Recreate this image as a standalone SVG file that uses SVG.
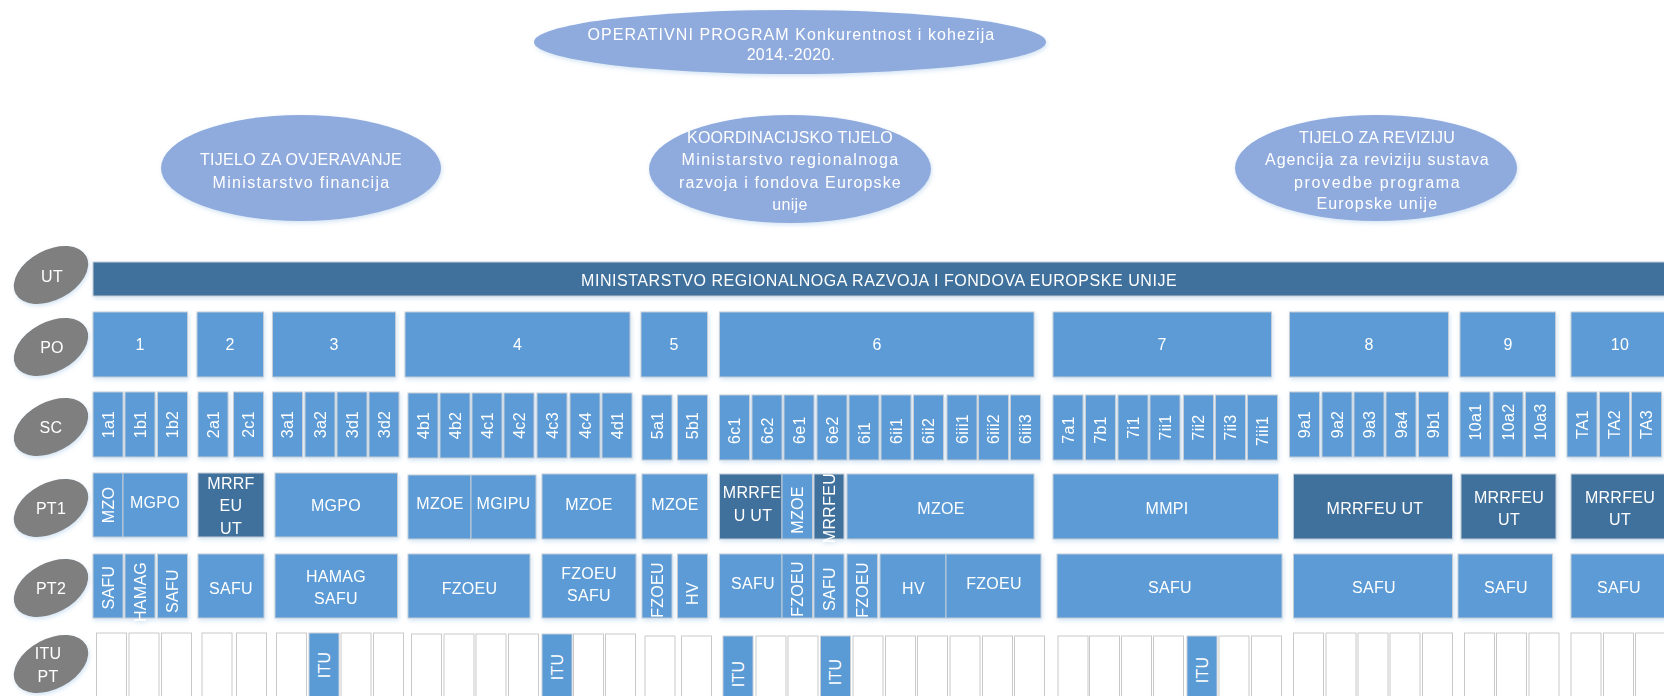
<svg xmlns="http://www.w3.org/2000/svg" width="1664" height="696" viewBox="0 0 1664 696">
<style>
.t{font-family:"Liberation Sans",Arial,sans-serif;font-size:16px;fill:#fff;text-anchor:middle;letter-spacing:0.3px}
.ts{font-family:"Liberation Sans",Arial,sans-serif;font-size:16px;fill:#fff;text-anchor:start;letter-spacing:0.3px}
.lb{fill:#5b9bd5;stroke:#c5cdd6;stroke-width:1}
.db{fill:#41719c;stroke:#c5cdd6;stroke-width:1}
.wb{fill:#fff;stroke:#c9c9c9;stroke-width:1}
.lab{fill:#7f7f7f}
.top{fill:#8faadc}
</style>
<defs>
<filter id="sh" x="-5%" y="-10%" width="115%" height="135%">
<feDropShadow dx="1" dy="2" stdDeviation="2" flood-color="#9dc3e6" flood-opacity="0.45"/>
</filter>
</defs>
<rect width="1664" height="696" fill="#fff"/>

<!-- top ellipses -->
<g id="op" filter="url(#sh)">
<ellipse class="top" cx="790" cy="42" rx="256" ry="32"/>
<text class="t" x="791" y="39.5" textLength="407" lengthAdjust="spacing">OPERATIVNI PROGRAM Konkurentnost i kohezija</text>
<text class="t" x="791" y="60">2014.-2020.</text>
</g>
<g id="tijelo-ovjeravanje" filter="url(#sh)">
<ellipse class="top" cx="301" cy="168" rx="140" ry="53"/>
<text class="t" x="301" y="165" textLength="202" lengthAdjust="spacing">TIJELO ZA OVJERAVANJE</text>
<text class="t" x="301" y="187.5" textLength="177" lengthAdjust="spacing">Ministarstvo financija</text>
</g>
<g id="koordinacijsko" filter="url(#sh)">
<ellipse class="top" cx="790" cy="169" rx="141" ry="54"/>
<text class="t" x="790" y="143" textLength="206" lengthAdjust="spacing">KOORDINACIJSKO TIJELO</text>
<text class="t" x="790" y="165" textLength="217" lengthAdjust="spacing">Ministarstvo regionalnoga</text>
<text class="t" x="790" y="188" textLength="222" lengthAdjust="spacing">razvoja i fondova Europske</text>
<text class="t" x="790" y="209.5">unije</text>
</g>
<g id="tijelo-revizija" filter="url(#sh)">
<ellipse class="top" cx="1376" cy="168" rx="141" ry="53"/>
<text class="t" x="1377" y="143" textLength="156" lengthAdjust="spacing">TIJELO ZA REVIZIJU</text>
<text class="t" x="1377" y="165" textLength="224" lengthAdjust="spacing">Agencija za reviziju sustava</text>
<text class="t" x="1377" y="187.5" textLength="166" lengthAdjust="spacing">provedbe programa</text>
<text class="t" x="1377" y="209" textLength="121" lengthAdjust="spacing">Europske unije</text>
</g>

<!-- row labels -->
<g id="lbl-ut" filter="url(#sh)"><ellipse class="lab" cx="51" cy="275" rx="40" ry="25" transform="rotate(-28 51 275)"/><text class="t" x="52" y="282">UT</text></g>
<g id="lbl-po" filter="url(#sh)"><ellipse class="lab" cx="51" cy="347" rx="40" ry="25" transform="rotate(-28 51 347)"/><text class="t" x="52" y="353">PO</text></g>
<g id="lbl-sc" filter="url(#sh)"><ellipse class="lab" cx="51" cy="427" rx="40" ry="25" transform="rotate(-28 51 427)"/><text class="t" x="51" y="433">SC</text></g>
<g id="lbl-pt1" filter="url(#sh)"><ellipse class="lab" cx="51" cy="508" rx="40" ry="25" transform="rotate(-28 51 508)"/><text class="t" x="51" y="514">PT1</text></g>
<g id="lbl-pt2" filter="url(#sh)"><ellipse class="lab" cx="51" cy="588" rx="40" ry="25" transform="rotate(-28 51 588)"/><text class="t" x="51" y="594">PT2</text></g>
<g id="lbl-itu" filter="url(#sh)"><ellipse class="lab" cx="51" cy="664" rx="40" ry="25" transform="rotate(-28 51 664)"/><text class="t" x="48" y="659">ITU</text><text class="t" x="48" y="682">PT</text></g>

<!-- UT -->
<g id="ut" filter="url(#sh)">
<rect class="db" x="93" y="262" width="1574" height="34"/>
<text class="t" x="879" y="285.5" textLength="596" lengthAdjust="spacing">MINISTARSTVO REGIONALNOGA RAZVOJA I FONDOVA EUROPSKE UNIJE</text>
</g>

<!-- PO -->
<g id="po" filter="url(#sh)">
<g id="po1"><rect class="lb" x="93" y="312" width="94.5" height="65"/><text class="t" x="140" y="350">1</text></g>
<g id="po2"><rect class="lb" x="197" y="312" width="66.5" height="65"/><text class="t" x="230" y="350">2</text></g>
<g id="po3"><rect class="lb" x="272.5" y="312" width="123" height="65"/><text class="t" x="334" y="350">3</text></g>
<g id="po4"><rect class="lb" x="405" y="312" width="225" height="65"/><text class="t" x="517.5" y="350">4</text></g>
<g id="po5"><rect class="lb" x="641" y="312" width="66.5" height="65"/><text class="t" x="674" y="350">5</text></g>
<g id="po6"><rect class="lb" x="719.5" y="312" width="314.5" height="65"/><text class="t" x="877" y="350">6</text></g>
<g id="po7"><rect class="lb" x="1053" y="312" width="218.5" height="65"/><text class="t" x="1162" y="350">7</text></g>
<g id="po8"><rect class="lb" x="1289.5" y="312" width="159" height="65"/><text class="t" x="1369" y="350">8</text></g>
<g id="po9"><rect class="lb" x="1460" y="312" width="95.5" height="65"/><text class="t" x="1508" y="350">9</text></g>
<g id="po10"><rect class="lb" x="1571" y="312" width="98" height="65"/><text class="t" x="1620" y="350">10</text></g>
</g>

<!-- SC -->
<g id="sc" filter="url(#sh)">
<g id="sc-1a1"><rect class="lb" x="93" y="392" width="30" height="65"/><text class="t" transform="translate(108 424.5) rotate(-90)" y="5.5">1a1</text></g>
<g id="sc-1b1"><rect class="lb" x="125" y="392" width="30" height="65"/><text class="t" transform="translate(140 424.5) rotate(-90)" y="5.5">1b1</text></g>
<g id="sc-1b2"><rect class="lb" x="157.5" y="392" width="30" height="65"/><text class="t" transform="translate(172.5 424.5) rotate(-90)" y="5.5">1b2</text></g>
<g id="sc-2a1"><rect class="lb" x="198" y="392" width="30" height="65"/><text class="t" transform="translate(213 424.5) rotate(-90)" y="5.5">2a1</text></g>
<g id="sc-2c1"><rect class="lb" x="233.5" y="392" width="30" height="65"/><text class="t" transform="translate(248.5 424.5) rotate(-90)" y="5.5">2c1</text></g>
<g id="sc-3a1"><rect class="lb" x="272.5" y="392" width="30" height="65"/><text class="t" transform="translate(287.5 424.5) rotate(-90)" y="5.5">3a1</text></g>
<g id="sc-3a2"><rect class="lb" x="305" y="392" width="30" height="65"/><text class="t" transform="translate(320 424.5) rotate(-90)" y="5.5">3a2</text></g>
<g id="sc-3d1"><rect class="lb" x="337" y="392" width="30" height="65"/><text class="t" transform="translate(352 424.5) rotate(-90)" y="5.5">3d1</text></g>
<g id="sc-3d2"><rect class="lb" x="369" y="392" width="30" height="65"/><text class="t" transform="translate(384 424.5) rotate(-90)" y="5.5">3d2</text></g>
<g id="sc-4b1"><rect class="lb" x="408" y="393" width="30" height="65"/><text class="t" transform="translate(423 425.5) rotate(-90)" y="5.5">4b1</text></g>
<g id="sc-4b2"><rect class="lb" x="440" y="393" width="30" height="65"/><text class="t" transform="translate(455 425.5) rotate(-90)" y="5.5">4b2</text></g>
<g id="sc-4c1"><rect class="lb" x="472" y="393" width="30" height="65"/><text class="t" transform="translate(487 425.5) rotate(-90)" y="5.5">4c1</text></g>
<g id="sc-4c2"><rect class="lb" x="504" y="393" width="30" height="65"/><text class="t" transform="translate(519 425.5) rotate(-90)" y="5.5">4c2</text></g>
<g id="sc-4c3"><rect class="lb" x="537" y="393" width="30" height="65"/><text class="t" transform="translate(552 425.5) rotate(-90)" y="5.5">4c3</text></g>
<g id="sc-4c4"><rect class="lb" x="570" y="393" width="30" height="65"/><text class="t" transform="translate(585 425.5) rotate(-90)" y="5.5">4c4</text></g>
<g id="sc-4d1"><rect class="lb" x="602" y="393" width="30" height="65"/><text class="t" transform="translate(617 425.5) rotate(-90)" y="5.5">4d1</text></g>
<g id="sc-5a1"><rect class="lb" x="642" y="395" width="30" height="65"/><text class="t" transform="translate(657 425.5) rotate(-90)" y="5.5">5a1</text></g>
<g id="sc-5b1"><rect class="lb" x="677.5" y="395" width="30" height="65"/><text class="t" transform="translate(692.5 425.5) rotate(-90)" y="5.5">5b1</text></g>
<g id="sc-6c1"><rect class="lb" x="719.5" y="395" width="30" height="65"/><text class="ts" transform="translate(734.5 444) rotate(-90)" y="5.5">6c1</text></g>
<g id="sc-6c2"><rect class="lb" x="752" y="395" width="30" height="65"/><text class="ts" transform="translate(767 444) rotate(-90)" y="5.5">6c2</text></g>
<g id="sc-6e1"><rect class="lb" x="784" y="395" width="30" height="65"/><text class="ts" transform="translate(799 444) rotate(-90)" y="5.5">6e1</text></g>
<g id="sc-6e2"><rect class="lb" x="817" y="395" width="30" height="65"/><text class="ts" transform="translate(832 444) rotate(-90)" y="5.5">6e2</text></g>
<g id="sc-6i1"><rect class="lb" x="849" y="395" width="30" height="65"/><text class="ts" transform="translate(864 444) rotate(-90)" y="5.5">6i1</text></g>
<g id="sc-6ii1"><rect class="lb" x="881" y="395" width="30" height="65"/><text class="ts" transform="translate(896 444) rotate(-90)" y="5.5">6ii1</text></g>
<g id="sc-6ii2"><rect class="lb" x="913.5" y="395" width="30" height="65"/><text class="ts" transform="translate(928.5 444) rotate(-90)" y="5.5">6ii2</text></g>
<g id="sc-6iii1"><rect class="lb" x="947" y="395" width="30" height="65"/><text class="ts" transform="translate(962 444) rotate(-90)" y="5.5">6iii1</text></g>
<g id="sc-6iii2"><rect class="lb" x="978.5" y="395" width="30" height="65"/><text class="ts" transform="translate(993.5 444) rotate(-90)" y="5.5">6iii2</text></g>
<g id="sc-6iii3"><rect class="lb" x="1010.5" y="395" width="30" height="65"/><text class="ts" transform="translate(1025.5 444) rotate(-90)" y="5.5">6iii3</text></g>
<g id="sc-7a1"><rect class="lb" x="1053" y="395" width="30" height="65"/><text class="t" transform="translate(1068 430) rotate(-90)" y="5.5">7a1</text></g>
<g id="sc-7b1"><rect class="lb" x="1085.5" y="395" width="30" height="65"/><text class="t" transform="translate(1100.5 430) rotate(-90)" y="5.5">7b1</text></g>
<g id="sc-7i1"><rect class="lb" x="1118" y="395" width="30" height="65"/><text class="t" transform="translate(1133 427.5) rotate(-90)" y="5.5">7i1</text></g>
<g id="sc-7ii1"><rect class="lb" x="1150" y="395" width="30" height="65"/><text class="t" transform="translate(1165 427.5) rotate(-90)" y="5.5">7ii1</text></g>
<g id="sc-7ii2"><rect class="lb" x="1183.5" y="395" width="30" height="65"/><text class="t" transform="translate(1198.5 427.5) rotate(-90)" y="5.5">7ii2</text></g>
<g id="sc-7ii3"><rect class="lb" x="1215.5" y="395" width="30" height="65"/><text class="t" transform="translate(1230.5 427.5) rotate(-90)" y="5.5">7ii3</text></g>
<g id="sc-7iii1"><rect class="lb" x="1247.5" y="395" width="30" height="65"/><text class="t" transform="translate(1262.5 431) rotate(-90)" y="5.5">7iii1</text></g>
<g id="sc-9a1"><rect class="lb" x="1289.5" y="392" width="30" height="65"/><text class="t" transform="translate(1304.5 424.5) rotate(-90)" y="5.5">9a1</text></g>
<g id="sc-9a2"><rect class="lb" x="1322" y="392" width="30" height="65"/><text class="t" transform="translate(1337 424.5) rotate(-90)" y="5.5">9a2</text></g>
<g id="sc-9a3"><rect class="lb" x="1354" y="392" width="30" height="65"/><text class="t" transform="translate(1369 424.5) rotate(-90)" y="5.5">9a3</text></g>
<g id="sc-9a4"><rect class="lb" x="1386" y="392" width="30" height="65"/><text class="t" transform="translate(1401 424.5) rotate(-90)" y="5.5">9a4</text></g>
<g id="sc-9b1"><rect class="lb" x="1418.5" y="392" width="30" height="65"/><text class="t" transform="translate(1433.5 424.5) rotate(-90)" y="5.5">9b1</text></g>
<g id="sc-10a1"><rect class="lb" x="1460" y="392" width="30" height="65"/><text class="t" transform="translate(1475 422) rotate(-90)" y="5.5">10a1</text></g>
<g id="sc-10a2"><rect class="lb" x="1493" y="392" width="30" height="65"/><text class="t" transform="translate(1508 422) rotate(-90)" y="5.5">10a2</text></g>
<g id="sc-10a3"><rect class="lb" x="1525.5" y="392" width="30" height="65"/><text class="t" transform="translate(1540.5 422) rotate(-90)" y="5.5">10a3</text></g>
<g id="sc-ta1"><rect class="lb" x="1567" y="392" width="30" height="65"/><text class="t" transform="translate(1582 424.5) rotate(-90)" y="5.5">TA1</text></g>
<g id="sc-ta2"><rect class="lb" x="1599.5" y="392" width="30" height="65"/><text class="t" transform="translate(1614.5 424.5) rotate(-90)" y="5.5">TA2</text></g>
<g id="sc-ta3"><rect class="lb" x="1631.5" y="392" width="30" height="65"/><text class="t" transform="translate(1646.5 424.5) rotate(-90)" y="5.5">TA3</text></g>
</g>

<!-- PT1 -->
<g id="pt1" filter="url(#sh)">
<g id="pt1-mzo"><rect class="lb" x="93" y="473" width="30" height="64"/><text class="t" transform="translate(108 505) rotate(-90)" y="5.5">MZO</text></g>
<g id="pt1-mgpo1"><rect class="lb" x="123" y="473" width="64.5" height="64"/><text class="t" x="155" y="507.5">MGPO</text></g>
<g id="pt1-mrrfeu2"><rect class="db" x="198" y="473" width="66" height="64"/><text class="t" x="231" y="489">MRRF</text><text class="t" x="231" y="511">EU</text><text class="t" x="231" y="534">UT</text></g>
<g id="pt1-mgpo3"><rect class="lb" x="275" y="473" width="122.5" height="64"/><text class="t" x="336" y="511">MGPO</text></g>
<g id="pt1-mzoe4"><rect class="lb" x="408" y="475" width="63" height="64"/><text class="t" x="440" y="509">MZOE</text></g>
<g id="pt1-mgipu"><rect class="lb" x="471" y="475" width="65" height="64"/><text class="t" x="503.5" y="509">MGIPU</text></g>
<g id="pt1-mzoe4b"><rect class="lb" x="542" y="474" width="94" height="65"/><text class="t" x="589" y="510">MZOE</text></g>
<g id="pt1-mzoe5"><rect class="lb" x="642" y="474" width="65.5" height="65"/><text class="t" x="675" y="510">MZOE</text></g>
<g id="pt1-mrrfeu6"><rect class="db" x="719.5" y="474" width="62.5" height="65"/><text class="t" x="752" y="498">MRRFE</text><text class="t" x="753" y="521">U UT</text></g>
<g id="pt1-mzoe6v"><rect class="lb" x="782" y="474" width="30.5" height="65"/><text class="t" transform="translate(797 510) rotate(-90)" y="5.5">MZOE</text></g>
<g id="pt1-mrrfeu6v"><rect class="db" x="814" y="474" width="30" height="65"/><text class="t" transform="translate(829 508) rotate(-90)" y="5.5">MRRFEU</text></g>
<g id="pt1-mzoe6"><rect class="lb" x="847" y="474" width="187" height="65"/><text class="t" x="941" y="513.5">MZOE</text></g>
<g id="pt1-mmpi"><rect class="lb" x="1053" y="474" width="225.5" height="65"/><text class="t" x="1167" y="513.5">MMPI</text></g>
<g id="pt1-mrrfeu8"><rect class="db" x="1293.5" y="474" width="159" height="65"/><text class="t" x="1375" y="513.5">MRRFEU UT</text></g>
<g id="pt1-mrrfeu9"><rect class="db" x="1461" y="474" width="95" height="65"/><text class="t" x="1509" y="502.5">MRRFEU</text><text class="t" x="1509" y="525">UT</text></g>
<g id="pt1-mrrfeu10"><rect class="db" x="1571" y="474" width="100" height="65"/><text class="t" x="1620" y="502.5">MRRFEU</text><text class="t" x="1620" y="525">UT</text></g>
</g>

<!-- PT2 -->
<g id="pt2" filter="url(#sh)">
<g id="pt2-safu1a"><rect class="lb" x="93" y="554" width="30" height="64"/><text class="t" transform="translate(108 587.5) rotate(-90)" y="5.5">SAFU</text></g>
<g id="pt2-hamag1"><rect class="lb" x="125" y="554" width="30" height="64"/><text class="t" transform="translate(140 592) rotate(-90)" y="5.5">HAMAG</text></g>
<g id="pt2-safu1b"><rect class="lb" x="157.5" y="554" width="30" height="64"/><text class="t" transform="translate(172.5 591) rotate(-90)" y="5.5">SAFU</text></g>
<g id="pt2-safu2"><rect class="lb" x="198" y="554" width="66" height="64"/><text class="t" x="231" y="593.5">SAFU</text></g>
<g id="pt2-hamag3"><rect class="lb" x="275" y="554" width="122.5" height="64"/><text class="t" x="336" y="582">HAMAG</text><text class="t" x="336" y="604">SAFU</text></g>
<g id="pt2-fzoeu4"><rect class="lb" x="408" y="554" width="122" height="64"/><text class="t" x="469.5" y="594">FZOEU</text></g>
<g id="pt2-fzoeu4b"><rect class="lb" x="542" y="554" width="94" height="64"/><text class="t" x="589" y="579">FZOEU</text><text class="t" x="589" y="601">SAFU</text></g>
<g id="pt2-fzoeu5"><rect class="lb" x="642" y="554" width="30" height="64"/><text class="t" transform="translate(657 590) rotate(-90)" y="5.5">FZOEU</text></g>
<g id="pt2-hv5"><rect class="lb" x="677.5" y="554" width="30" height="64"/><text class="t" transform="translate(692.5 593.5) rotate(-90)" y="5.5">HV</text></g>
<g id="pt2-safu6"><rect class="lb" x="719.5" y="554" width="62.5" height="64"/><text class="t" x="753" y="589">SAFU</text></g>
<g id="pt2-fzoeu6a"><rect class="lb" x="782" y="554" width="30.5" height="64"/><text class="t" transform="translate(797 589) rotate(-90)" y="5.5">FZOEU</text></g>
<g id="pt2-safu6v"><rect class="lb" x="814" y="554" width="30" height="64"/><text class="t" transform="translate(829 589) rotate(-90)" y="5.5">SAFU</text></g>
<g id="pt2-fzoeu6b"><rect class="lb" x="847" y="554" width="30.5" height="64"/><text class="t" transform="translate(862 590) rotate(-90)" y="5.5">FZOEU</text></g>
<g id="pt2-hv6"><rect class="lb" x="880" y="554" width="66" height="64"/><text class="t" x="913.5" y="594">HV</text></g>
<g id="pt2-fzoeu6c"><rect class="lb" x="946" y="554" width="95" height="64"/><text class="t" x="994" y="589">FZOEU</text></g>
<g id="pt2-safu7"><rect class="lb" x="1057" y="554" width="225" height="64"/><text class="t" x="1170" y="592.5">SAFU</text></g>
<g id="pt2-safu8"><rect class="lb" x="1293.5" y="554" width="159" height="64"/><text class="t" x="1374" y="592.5">SAFU</text></g>
<g id="pt2-safu9"><rect class="lb" x="1458" y="554" width="94.5" height="64"/><text class="t" x="1506" y="592.5">SAFU</text></g>
<g id="pt2-safu10"><rect class="lb" x="1571" y="554" width="100" height="64"/><text class="t" x="1619" y="592.5">SAFU</text></g>
</g>

<!-- ITU PT -->
<g id="itu">
<rect class="wb" x="96.5" y="633" width="30" height="80"/>
<rect class="wb" x="129" y="633" width="30" height="80"/>
<rect class="wb" x="161.5" y="633" width="30" height="80"/>
<rect class="wb" x="202" y="633" width="30" height="80"/>
<rect class="wb" x="236.5" y="633" width="30" height="80"/>
<rect class="wb" x="276.5" y="633" width="30" height="80"/>
<g id="itu-3"><rect class="lb" x="309" y="633" width="30" height="80"/><text class="t" transform="translate(324 665) rotate(-90)" y="5.5">ITU</text></g>
<rect class="wb" x="341" y="633" width="30" height="80"/>
<rect class="wb" x="373.5" y="633" width="30" height="80"/>
<rect class="wb" x="411.5" y="634" width="30" height="80"/>
<rect class="wb" x="444" y="634" width="30" height="80"/>
<rect class="wb" x="476" y="634" width="30" height="80"/>
<rect class="wb" x="508.5" y="634" width="30" height="80"/>
<g id="itu-4"><rect class="lb" x="542" y="634" width="30" height="80"/><text class="t" transform="translate(557 667) rotate(-90)" y="5.5">ITU</text></g>
<rect class="wb" x="573.5" y="634" width="30" height="80"/>
<rect class="wb" x="605.5" y="634" width="30" height="80"/>
<rect class="wb" x="645" y="636" width="30" height="80"/>
<rect class="wb" x="681.5" y="636" width="30" height="80"/>
<g id="itu-6a"><rect class="lb" x="723" y="636" width="30" height="80"/><text class="t" transform="translate(738 674) rotate(-90)" y="5.5">ITU</text></g>
<rect class="wb" x="756" y="636" width="30" height="80"/>
<rect class="wb" x="788" y="636" width="30" height="80"/>
<g id="itu-6b"><rect class="lb" x="820.5" y="636" width="30" height="80"/><text class="t" transform="translate(835.5 672) rotate(-90)" y="5.5">ITU</text></g>
<rect class="wb" x="853" y="636" width="30" height="80"/>
<rect class="wb" x="885.5" y="636" width="30" height="80"/>
<rect class="wb" x="917.5" y="636" width="30" height="80"/>
<rect class="wb" x="950" y="636" width="30" height="80"/>
<rect class="wb" x="982.5" y="636" width="30" height="80"/>
<rect class="wb" x="1014.5" y="636" width="30" height="80"/>
<rect class="wb" x="1058" y="636" width="30" height="80"/>
<rect class="wb" x="1089.5" y="636" width="30" height="80"/>
<rect class="wb" x="1121.5" y="636" width="30" height="80"/>
<rect class="wb" x="1153.5" y="636" width="30" height="80"/>
<g id="itu-7"><rect class="lb" x="1187" y="636" width="30" height="80"/><text class="t" transform="translate(1202 670) rotate(-90)" y="5.5">ITU</text></g>
<rect class="wb" x="1219" y="636" width="30" height="80"/>
<rect class="wb" x="1251.5" y="636" width="30" height="80"/>
<rect class="wb" x="1293.5" y="633" width="30" height="80"/>
<rect class="wb" x="1326" y="633" width="30" height="80"/>
<rect class="wb" x="1358" y="633" width="30" height="80"/>
<rect class="wb" x="1390" y="633" width="30" height="80"/>
<rect class="wb" x="1422.5" y="633" width="30" height="80"/>
<rect class="wb" x="1464.5" y="633" width="30" height="80"/>
<rect class="wb" x="1496.5" y="633" width="30" height="80"/>
<rect class="wb" x="1529" y="633" width="30" height="80"/>
<rect class="wb" x="1571" y="633" width="30" height="80"/>
<rect class="wb" x="1603.5" y="633" width="30" height="80"/>
<rect class="wb" x="1635.5" y="633" width="30" height="80"/>
</g>

<g id="connectors"/>
</svg>
